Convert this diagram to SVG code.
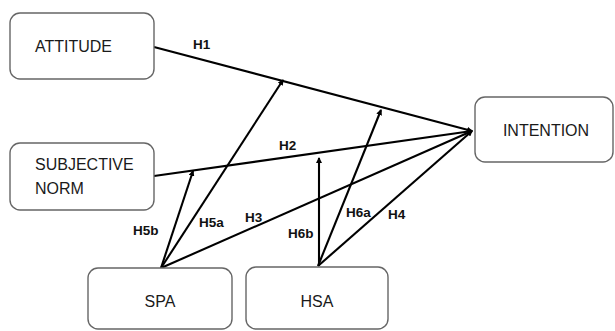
<svg xmlns="http://www.w3.org/2000/svg" width="615" height="331" viewBox="0 0 615 331">
<defs>
<marker id="ah" markerWidth="6" markerHeight="6" refX="5" refY="3" orient="auto" markerUnits="userSpaceOnUse">
<path d="M0,0 L6,3 L0,6 Z" fill="#000"/>
</marker>
<style>
.box{fill:#fff;stroke:#666;stroke-width:1.4}
.bt{font-family:"Liberation Sans",Arial,sans-serif;font-size:16px;fill:#1a1a1a}
.lbl{font-family:"Liberation Sans",Arial,sans-serif;font-size:13.5px;font-weight:bold;fill:#111}
.c{stroke:#000;stroke-width:2.1;fill:none}
</style>
</defs>
<rect width="615" height="331" fill="#fff"/>
<g id="connectors">
<line class="c" x1="154" y1="47" x2="472" y2="131" marker-end="url(#ah)"/>
<line class="c" x1="154" y1="176" x2="472" y2="131" marker-end="url(#ah)"/>
<line class="c" x1="161" y1="268" x2="472" y2="131" marker-end="url(#ah)"/>
<line class="c" x1="318" y1="266" x2="472" y2="131" marker-end="url(#ah)"/>
<line class="c" x1="161" y1="268" x2="193" y2="171" marker-end="url(#ah)"/>
<line class="c" x1="161" y1="268" x2="283" y2="80" marker-end="url(#ah)"/>
<line class="c" x1="319" y1="266" x2="319" y2="158" marker-end="url(#ah)"/>
<line class="c" x1="318" y1="266" x2="381" y2="110" marker-end="url(#ah)"/>
<text class="lbl" x="193" y="49">H1</text>
<text class="lbl" x="279" y="150">H2</text>
<text class="lbl" x="133" y="235">H5b</text>
<text class="lbl" x="199" y="227">H5a</text>
<text class="lbl" x="245" y="222">H3</text>
<text class="lbl" x="288" y="238">H6b</text>
<text class="lbl" x="346" y="217">H6a</text>
<text class="lbl" x="388" y="219">H4</text>
</g>
<g id="attitude">
<rect class="box" x="10" y="13" width="144" height="66" rx="10"/>
<text class="bt" x="35" y="52">ATTITUDE</text>
</g>
<g id="subjective-norm">
<rect class="box" x="10" y="143" width="144" height="67" rx="10"/>
<text class="bt" x="35" y="170">SUBJECTIVE</text>
<text class="bt" x="35" y="194">NORM</text>
</g>
<g id="intention">
<rect class="box" x="475" y="97" width="138" height="65" rx="10"/>
<text class="bt" x="546" y="136" text-anchor="middle">INTENTION</text>
</g>
<g id="spa">
<rect class="box" x="88" y="268" width="144" height="61" rx="10"/>
<text class="bt" x="160" y="307" text-anchor="middle">SPA</text>
</g>
<g id="hsa">
<rect class="box" x="246" y="267" width="142" height="62" rx="10"/>
<text class="bt" x="317" y="307" text-anchor="middle">HSA</text>
</g>
</svg>
